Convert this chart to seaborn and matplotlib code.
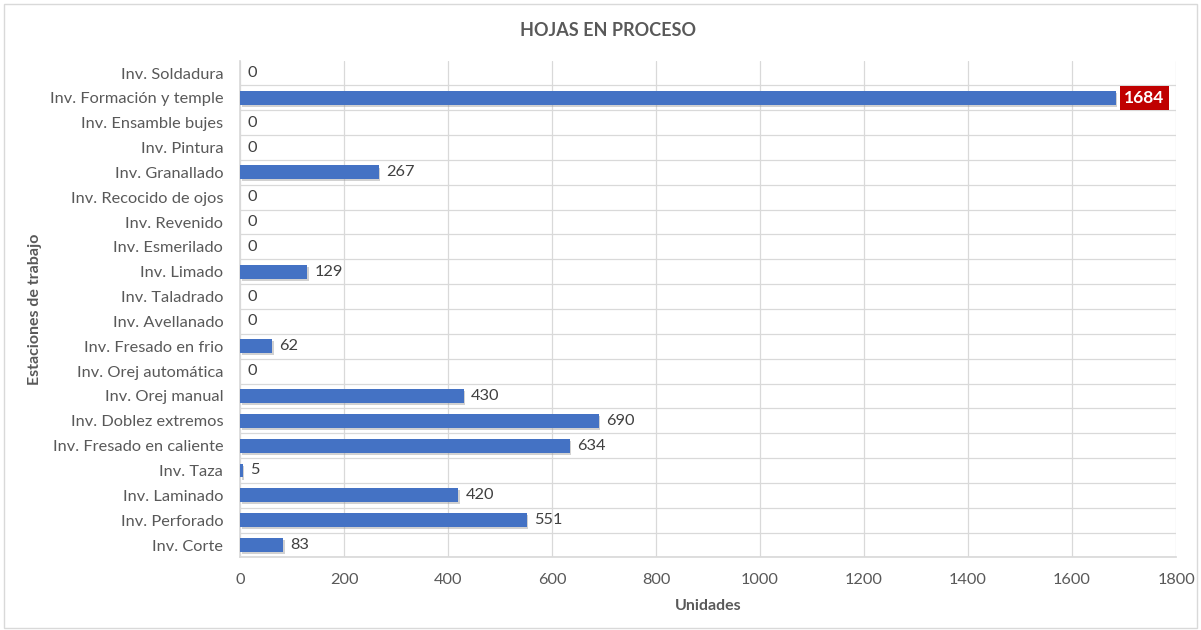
import matplotlib
matplotlib.use("Agg")
import matplotlib.pyplot as plt
import matplotlib.patheffects as pe
from matplotlib.patches import Rectangle
import seaborn as sns
import pandas as pd
import numpy as np

categories = [
    "Inv. Soldadura", "Inv. Formación y temple", "Inv. Ensamble bujes", "Inv. Pintura",
    "Inv. Granallado", "Inv. Recocido de ojos", "Inv. Revenido", "Inv. Esmerilado",
    "Inv. Limado", "Inv. Taladrado", "Inv. Avellanado", "Inv. Fresado en frio",
    "Inv. Orej automática", "Inv. Orej manual", "Inv. Doblez extremos",
    "Inv. Fresado en caliente", "Inv. Taza", "Inv. Laminado", "Inv. Perforado", "Inv. Corte",
]
values = [0, 1684, 0, 0, 267, 0, 0, 0, 129, 0, 0, 62, 0, 430, 690, 634, 5, 420, 551, 83]
x_ticks = [0, 200, 400, 600, 800, 1000, 1200, 1400, 1600, 1800]
title = "HOJAS EN PROCESO"
x_label = "Unidades"
y_label = "Estaciones de trabajo"
highlight = "Inv. Formación y temple"

sns.set_theme(style="white")
plt.rcParams["font.family"] = ["Lato", "DejaVu Sans"]

df = pd.DataFrame({"cat": categories, "val": values})

fig = plt.figure(figsize=(12.01, 6.30), dpi=100)
ax = fig.add_axes([0.1998, 0.1152, 0.7795, 0.7886])

sns.barplot(data=df, y="cat", x="val", orient="h", order=categories,
            color="#4472C4", saturation=1, width=0.56, ax=ax, zorder=3)

for p in ax.patches:
    p.set_linewidth(0)
    if p.get_width() > 0:
        p.set_path_effects([pe.SimplePatchShadow(offset=(1.2, -1.5), shadow_rgbFace="#9a9a9a", alpha=0.45),
                            pe.Normal()])

ax.set_xlim(0, 1800)
ax.set_xticks(x_ticks)
ax.set_xticklabels([str(t) for t in x_ticks])
ax.set_ylim(len(categories) - 0.5, -0.5)
ax.set_yticks(np.arange(len(categories)) + 0.5, minor=True)

ax.grid(axis="x", which="major", color="#D9D9D9", linewidth=0.9, zorder=0)
ax.grid(axis="y", which="minor", color="#D9D9D9", linewidth=0.9, zorder=0)
ax.grid(axis="y", which="major", visible=False)
ax.set_axisbelow(True)

for s in ["top", "right"]:
    ax.spines[s].set_visible(False)
ax.spines["left"].set_color("#D9D9D9")
ax.spines["bottom"].set_color("#D9D9D9")

ax.tick_params(axis="both", which="both", length=0, labelsize=11.8, labelcolor="#595959")
ax.tick_params(axis="y", pad=12)
ax.tick_params(axis="x", pad=11)

ax.set_xlabel(x_label, fontsize=11.5, fontweight="bold", color="#595959")
ax.set_ylabel(y_label, fontsize=11.5, fontweight="bold", color="#595959")
ax.xaxis.set_label_coords(0.5, -0.084)
ax.yaxis.set_label_coords(-0.2115, 0.5)
fig.text(0.506, 0.952, title, ha="center", va="center", fontsize=13, fontweight="bold", color="#595959")

for i, (c, v) in enumerate(zip(categories, values)):
    if c == highlight:
        ax.text(v + 16, i, str(v), va="center", ha="left", fontsize=12.5, fontweight="bold",
                color="white", zorder=5,
                bbox=dict(boxstyle="square,pad=0.25", facecolor="#C00000", edgecolor="none"))
    else:
        ax.text(v + 14, i, str(v), va="center", ha="left", fontsize=11.8, color="#404040", zorder=5)

fig.patches.append(Rectangle((0.003, 0.003), 0.994, 0.99, transform=fig.transFigure,
                             fill=False, edgecolor="#D9D9D9", linewidth=1))

fig.savefig("out.png", dpi=100)
